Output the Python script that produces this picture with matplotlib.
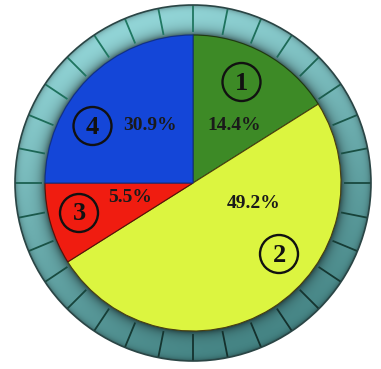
import numpy as np
import matplotlib
matplotlib.use("Agg")
import matplotlib.pyplot as plt
from matplotlib.patches import Circle

# ---- data ----
slice_ids = ["1", "2", "3", "4"]
pct_labels = ["14.4%", "49.2%", "5.5%", "30.9%"]
slice_angles = [57.8, 180.0, 32.2, 90.0]   # drawn sweep of each slice (degrees)
slice_colors = ["#3d8a26", "#dcf540", "#f01c10", "#1446d8"]
slice_edges = ["#1f3a10", "#4a4010", "#5a1008", "#10308a"]

# ---- layout ----
W, H = 381, 369
cx, cy = 193, 183
R_pie = 148
R_out = 178
id_pos = [(241.5, 82), (279, 254), (79, 213), (92.5, 126)]
pct_pos = [(234, 125), (254, 204), (130, 198), (150, 125)]

fig = plt.figure(figsize=(W / 100, H / 100), dpi=100)
ax = fig.add_axes([0, 0, 1, 1])
ax.set_xlim(0, W)
ax.set_ylim(H, 0)
ax.set_aspect("equal")
ax.axis("off")

# ---- bezel ring with gradient ----
yy, xx = np.mgrid[0:H, 0:W] + 0.5
dx, dy = xx - cx, yy - cy
rr = np.hypot(dx, dy)
t = np.clip(((0.35 * dx + dy) / (1.06 * R_out) + 1) / 2, 0, 1)
light = np.array([0x96, 0xda, 0xdc]) / 255
dark = np.array([0x44, 0x84, 0x84]) / 255
col = light[None, None, :] * (1 - t[..., None]) + dark[None, None, :] * t[..., None]
shade = 1 - 0.55 * np.exp(-(rr - R_pie) / 5.0)
shade2 = 1 - 0.35 * np.exp(-(R_out - rr) / 2.5)
col = col * np.clip(shade * shade2, 0, 1)[..., None]
alpha = np.clip(R_out + 0.5 - rr, 0, 1) * np.clip(rr - R_pie + 2, 0, 1)
img = np.dstack([col, alpha])
ax.imshow(img, extent=(0, W, H, 0), origin="upper", interpolation="bilinear", zorder=1)

ax.add_patch(Circle((cx, cy), R_out, fill=False, ec="#2a4545", lw=1.2, zorder=3))

# tick marks (32 segments)
for k in range(32):
    a = np.deg2rad(90 - k * 11.25)
    ux, uy = np.cos(a), -np.sin(a)
    tt = np.clip(((0.35 * ux + uy) / 1.06 + 1) / 2, 0, 1)
    c1 = np.array([0x1f, 0x78, 0x62]) / 255
    c2 = np.array([0x14, 0x30, 0x2c]) / 255
    c = c1 * (1 - tt) + c2 * tt
    ax.plot([cx + ux * (R_pie + 3), cx + ux * R_out], [cy + uy * (R_pie + 3), cy + uy * R_out],
            color=c, lw=1.3, zorder=2, solid_capstyle="butt")

# ---- pie ----
wedges, _ = ax.pie(slice_angles, colors=slice_colors, startangle=-90, counterclock=True,
                   center=(cx, cy), radius=R_pie, frame=True,
                   wedgeprops=dict(linewidth=0.8))
for w, ec in zip(wedges, slice_edges):
    w.set_edgecolor(ec)
    w.set_zorder(4)
ax.set_xlim(0, W)
ax.set_ylim(H, 0)
ax.set_aspect("equal")
ax.axis("off")

# ---- labels ----
serif = ["Liberation Serif", "DejaVu Serif"]
for sid, (x, y) in zip(slice_ids, id_pos):
    ax.add_patch(Circle((x, y), 19, fill=False, ec="#111111", lw=1.7, zorder=5))
    ax.text(x, y + 1, sid, ha="center", va="center", fontsize=19, fontweight="bold",
            family=serif, color="#111111", zorder=6)
for p, (x, y) in zip(pct_labels, pct_pos):
    ax.text(x, y, p, ha="center", va="center", fontsize=14, fontweight="bold",
            family=serif, color="#1a1a1a", zorder=6)

fig.savefig("out.png", dpi=100)
